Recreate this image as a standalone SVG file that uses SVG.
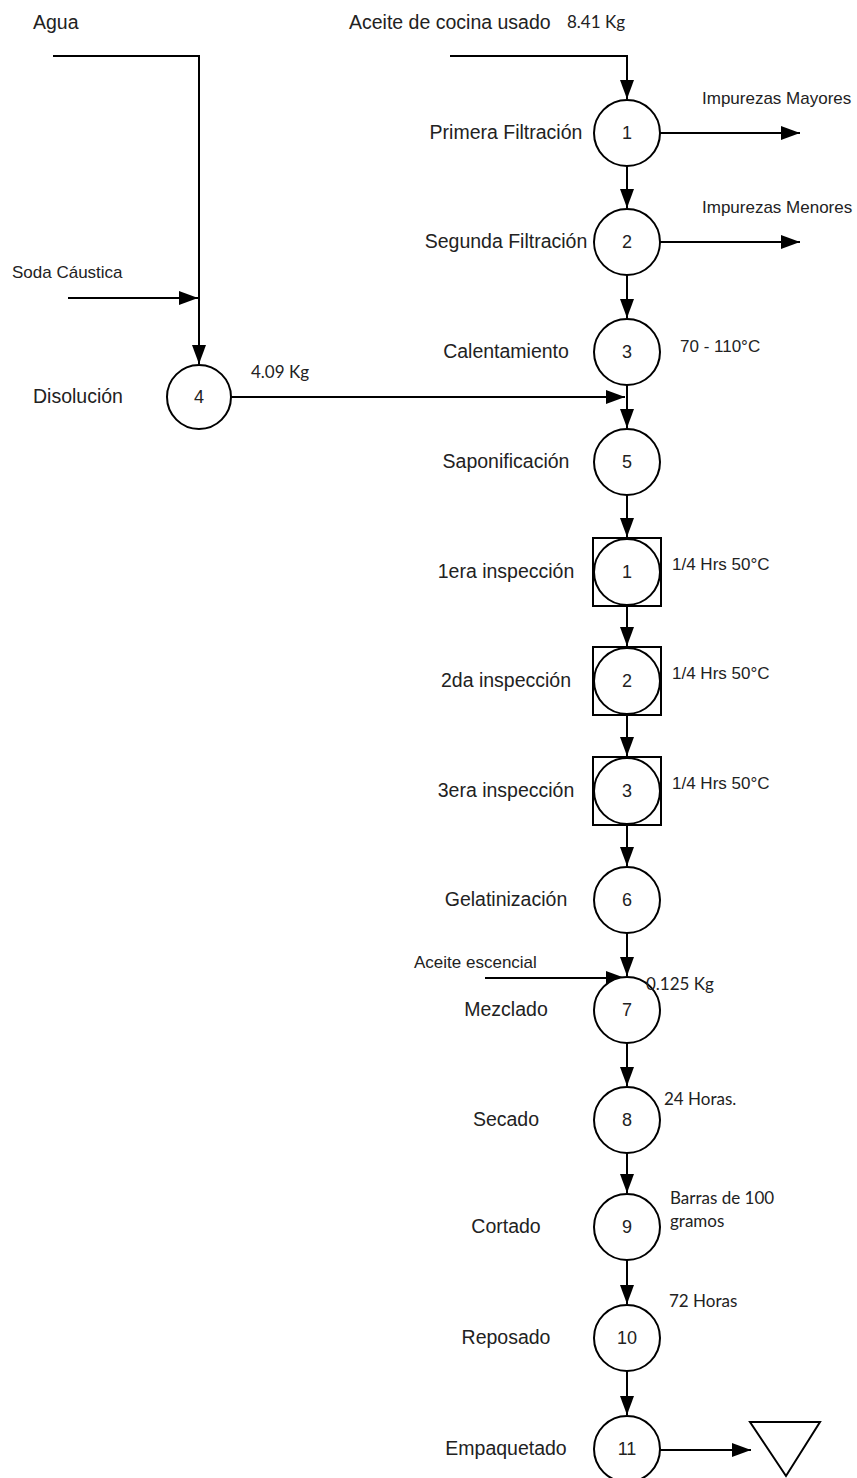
<svg xmlns="http://www.w3.org/2000/svg" width="857" height="1478" viewBox="0 0 857 1478">
<style>
.ln{fill:none;stroke:#000;stroke-width:2}
.arr{fill:none;stroke:#000;stroke-width:2;marker-end:url(#ah)}
.nd{fill:#fff;stroke:#000;stroke-width:2}
.lbl{font-family:"Liberation Sans",Arial,sans-serif;font-size:19.5px;fill:#222;text-anchor:middle}
.num{font-family:"Liberation Sans",Arial,sans-serif;font-size:18px;fill:#222;text-anchor:middle}
.sm{font-family:"Liberation Sans",Arial,sans-serif;font-size:17px;fill:#222}
.cal{font-family:Lato,"Open Sans",sans-serif;font-size:17px;fill:#222}
</style>
<defs>
<marker id="ah" markerUnits="userSpaceOnUse" markerWidth="20" markerHeight="14" refX="19" refY="7" orient="auto" viewBox="0 0 20 14">
<path d="M0,0 L19,7 L0,14 z" fill="#000"/>
</marker>
</defs>
<rect width="857" height="1478" fill="#fff"/>

<g id="connectors">
<path class="arr" d="M53,56 H199 V364"/>
<path class="arr" d="M68,298 H198"/>
<path class="arr" d="M450,56 H627 V99"/>
<path class="arr" d="M659,133 H800"/>
<path class="arr" d="M659,242 H800"/>
<path class="arr" d="M627,166 V208"/>
<path class="arr" d="M627,275 V318"/>
<path class="arr" d="M231,397 H625"/>
<path class="arr" d="M627,385 V428"/>
<path class="arr" d="M627,495 V537"/>
<path class="arr" d="M627,606 V646"/>
<path class="arr" d="M627,715 V756"/>
<path class="arr" d="M627,825 V866"/>
<path class="arr" d="M627,933 V976"/>
<path class="arr" d="M485,978 H625"/>
<path class="arr" d="M627,1043 V1086"/>
<path class="arr" d="M627,1153 V1193"/>
<path class="arr" d="M627,1260 V1304"/>
<path class="arr" d="M627,1371 V1415"/>
<path class="arr" d="M659,1450 H751"/>
</g>

<g id="inputs">
<text class="lbl" x="33" y="29" style="text-anchor:start">Agua</text>
<text class="lbl" x="349" y="29" style="text-anchor:start">Aceite de cocina usado</text>
<text class="cal" x="567" y="28">8.41 Kg</text>
<text class="sm" x="12" y="278">Soda Cáustica</text>
<text class="sm" x="414" y="968">Aceite escencial</text>
</g>

<g id="node-4">
<circle class="nd" cx="199" cy="397" r="32"/>
<text class="num" x="199" y="403">4</text>
<text class="lbl" x="33" y="403" style="text-anchor:start">Disolución</text>
<text class="cal" x="251" y="378">4.09 Kg</text>
</g>

<g id="node-1">
<circle class="nd" cx="627" cy="133" r="33"/>
<text class="num" x="627" y="139">1</text>
<text class="lbl" x="506" y="139">Primera Filtración</text>
<text class="sm" x="702" y="104">Impurezas Mayores</text>
</g>

<g id="node-2">
<circle class="nd" cx="627" cy="242" r="33"/>
<text class="num" x="627" y="248">2</text>
<text class="lbl" x="506" y="248">Segunda Filtración</text>
<text class="sm" x="702" y="213">Impurezas Menores</text>
</g>

<g id="node-3">
<circle class="nd" cx="627" cy="352" r="33"/>
<text class="num" x="627" y="358">3</text>
<text class="lbl" x="506" y="358">Calentamiento</text>
<text class="sm" x="680" y="352">70 - 110°C</text>
</g>

<g id="node-5">
<circle class="nd" cx="627" cy="462" r="33"/>
<text class="num" x="627" y="468">5</text>
<text class="lbl" x="506" y="468">Saponificación</text>
</g>

<g id="insp-1">
<rect class="nd" x="593" y="538" width="68" height="68"/>
<circle class="nd" cx="627" cy="572" r="33"/>
<text class="num" x="627" y="578">1</text>
<text class="lbl" x="506" y="578">1era inspección</text>
<text class="sm" x="672" y="570">1/4 Hrs 50°C</text>
</g>

<g id="insp-2">
<rect class="nd" x="593" y="647" width="68" height="68"/>
<circle class="nd" cx="627" cy="681" r="33"/>
<text class="num" x="627" y="687">2</text>
<text class="lbl" x="506" y="687">2da inspección</text>
<text class="sm" x="672" y="679">1/4 Hrs 50°C</text>
</g>

<g id="insp-3">
<rect class="nd" x="593" y="757" width="68" height="68"/>
<circle class="nd" cx="627" cy="791" r="33"/>
<text class="num" x="627" y="797">3</text>
<text class="lbl" x="506" y="797">3era inspección</text>
<text class="sm" x="672" y="789">1/4 Hrs 50°C</text>
</g>

<g id="node-6">
<circle class="nd" cx="627" cy="900" r="33"/>
<text class="num" x="627" y="906">6</text>
<text class="lbl" x="506" y="906">Gelatinización</text>
</g>

<g id="node-7">
<circle class="nd" cx="627" cy="1010" r="33"/>
<text class="num" x="627" y="1016">7</text>
<text class="lbl" x="506" y="1016">Mezclado</text>
<text class="cal" x="646" y="990">0.125 Kg</text>
</g>

<g id="node-8">
<circle class="nd" cx="627" cy="1120" r="33"/>
<text class="num" x="627" y="1126">8</text>
<text class="lbl" x="506" y="1126">Secado</text>
<text class="cal" x="664" y="1105">24 Horas.</text>
</g>

<g id="node-9">
<circle class="nd" cx="627" cy="1227" r="33"/>
<text class="num" x="627" y="1233">9</text>
<text class="lbl" x="506" y="1233">Cortado</text>
<text class="cal" x="670" y="1204">Barras de 100</text>
<text class="cal" x="670" y="1227">gramos</text>
</g>

<g id="node-10">
<circle class="nd" cx="627" cy="1338" r="33"/>
<text class="num" x="627" y="1344">10</text>
<text class="lbl" x="506" y="1344">Reposado</text>
<text class="cal" x="669" y="1307">72 Horas</text>
</g>

<g id="node-11">
<circle class="nd" cx="627" cy="1449" r="33"/>
<text class="num" x="627" y="1455">11</text>
<text class="lbl" x="506" y="1455">Empaquetado</text>
</g>

<g id="storage">
<polygon class="nd" points="750,1422 820,1422 786,1476"/>
</g>
</svg>
